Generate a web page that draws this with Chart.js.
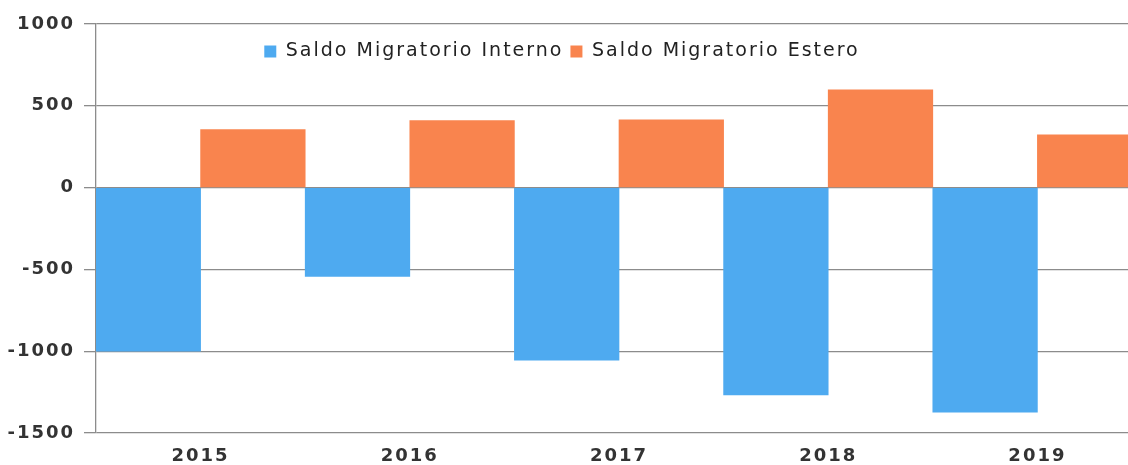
<!DOCTYPE html>
<html><head><meta charset="utf-8">
<script src="https://cdn.jsdelivr.net/npm/chart.js@4/dist/chart.umd.min.js"></script>
<style>html,body{margin:0;padding:0;overflow:hidden;background:#fff}
#wrap{width:1142px;height:465px;position:relative}
</style></head><body><div id="wrap"><canvas id="c"></canvas></div>
<script>
const categories = ['2015', '2016', '2017', '2018', '2019'];
const saldoInterno = [-1000, -543, -1055, -1268, -1372];
const saldoEstero = [355, 409, 415, 598, 323];
const seriesNames = ['Saldo Migratorio Interno', 'Saldo Migratorio Estero'];
const yMin = -1500, yMax = 1000, yStep = 500;

const SPACING = '2px';
const spacingPlugin = {
  id: 'spacing',
  beforeUpdate(c) { c.ctx.letterSpacing = SPACING; },
  beforeLayout(c) { c.ctx.letterSpacing = SPACING; },
  beforeDraw(c) { c.ctx.letterSpacing = SPACING; }
};
const legendShift = {
  id: 'legendShift',
  afterLayout(c) {
    const l = c.legend;
    if (l) { l.left -= 9; l.right -= 9; l.top += 47; l.bottom += 47; }
  }
};

new Chart(document.getElementById('c'), {
  type: 'bar',
  data: {
    labels: categories,
    datasets: [
      { label: seriesNames[0], data: saldoInterno, backgroundColor: '#4eaaf0', borderWidth: 0, categoryPercentage: 1, barPercentage: 1 },
      { label: seriesNames[1], data: saldoEstero, backgroundColor: '#f9844e', borderWidth: 0, categoryPercentage: 1, barPercentage: 1 }
    ]
  },
  plugins: [spacingPlugin, legendShift],
  options: {
    responsive: true,
    maintainAspectRatio: false,
    animation: false,
    layout: { padding: { top: -12, right: 0, left: 0, bottom: 0 } },
    plugins: {
      legend: {
        position: 'top',
        align: 'center',
        labels: {
          boxWidth: 12, boxHeight: 12, padding: 7,
          color: '#222',
          font: { family: 'DejaVu Sans', size: 19 }
        }
      },
      tooltip: { enabled: false }
    },
    scales: {
      x: {
        grid: { display: false },
        border: { display: false },
        ticks: { color: '#333', padding: 5, font: { family: 'DejaVu Sans', size: 18, weight: 'bold' } },
        afterFit(s) { s.height = 32; }
      },
      y: {
        min: yMin, max: yMax,
        grid: { color: '#8c8c8c', lineWidth: 1.3, tickLength: 12, drawTicks: true },
        border: { display: true, color: '#8c8c8c', width: 1.3 },
        ticks: { stepSize: yStep, color: '#333', padding: 9, callback: v => String(v), font: { family: 'DejaVu Sans', size: 18, weight: 'bold' } },
        afterFit(s) { s.width = 96; }
      }
    }
  }
});
</script></body></html>
